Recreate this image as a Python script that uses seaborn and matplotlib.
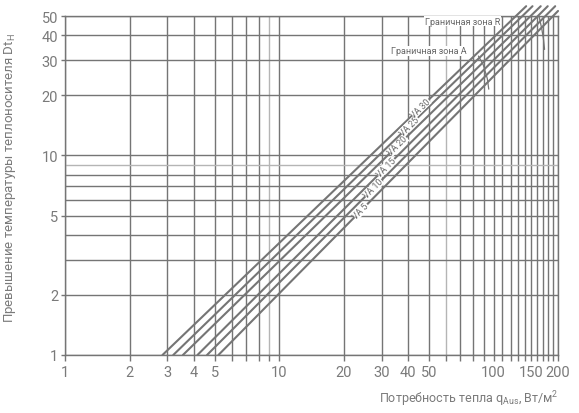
import numpy as np
import pandas as pd
import matplotlib
matplotlib.use('Agg')
import matplotlib.pyplot as plt
import seaborn as sns

# curves VA 5 ... VA 30: start (at Dt=1) and end points
va_names = ['VA 5', 'VA 10', 'VA 15', 'VA 20', 'VA 25', 'VA 30']
q_start = [5.2, 4.6, 4.15, 3.55, 3.2, 2.85]
dt_start = [1.0, 1.0, 1.0, 1.0, 1.0, 1.0]
q_end = [200, 194, 179, 166, 152, 142]
dt_end = [53, 56, 56, 56, 56, 56]
label_q = [24.0, 27.5, 31.5, 35.8, 40.5, 45.5]

# boundary zones
zone_a_q = [85, 89.5, 93.5, 95]
zone_a_dt = [31.5, 28.5, 24.3, 21.5]
zone_r_q = [163, 168, 171, 173]
zone_r_dt = [50, 43, 38.4, 34]

x_ticks = [1, 2, 3, 4, 5, 10, 20, 30, 40, 50, 100, 150, 200]
y_ticks = [1, 2, 5, 10, 20, 30, 40, 50]
x_grid = list(range(1, 10)) + list(range(10, 100, 10)) + list(range(100, 201, 10))
y_grid = list(range(1, 10)) + [10, 20, 30, 40, 50]
faint = [9, 60]

sns.set_style('white')
plt.rcParams['font.family'] = ['Roboto', 'DejaVu Sans']
plt.rcParams['mathtext.default'] = 'regular'

GRID = '#757575'
TXT = '#7a7a7a'

rows = []
for n, q0, d0, q1, d1 in zip(va_names, q_start, dt_start, q_end, dt_end):
    rows.append({'va': n, 'q': q0, 'dt': d0})
    rows.append({'va': n, 'q': q1, 'dt': d1})
df = pd.DataFrame(rows)

fig = plt.figure(figsize=(5.79, 4.14), dpi=100)
ax = fig.add_axes([0.1123, 0.1401, 0.8515, 0.8188])
ax.set_xscale('log')
ax.set_yscale('log')
ax.set_xlim(1, 200)
ax.set_ylim(1, 50)

for v in x_grid:
    ax.axvline(v, color='#b5b5b5' if v in faint else GRID, lw=1, zorder=1)
for v in y_grid:
    ax.axhline(v, color='#b5b5b5' if v in faint else GRID, lw=1, zorder=1)

sns.lineplot(data=df, x='q', y='dt', hue='va', palette=[GRID] * 6,
             estimator=None, sort=False, lw=1.5, legend=False, ax=ax, zorder=3)
for line in ax.get_lines()[-6:]:
    line.set_clip_on(False)

ax.plot(zone_a_q, zone_a_dt, color=GRID, lw=0.9, zorder=4)
ax.plot(zone_r_q, zone_r_dt, color=GRID, lw=0.9, zorder=4, clip_on=False)
ax.text(49.7, 33.4, 'Граничная зона A', fontsize=6.5, color='#666666', ha='center', va='center', zorder=5,
        bbox=dict(facecolor='white', edgecolor='none', pad=0.5))
ax.text(71.6, 47.2, 'Граничная зона R', fontsize=6.5, color='#666666', ha='center', va='center', zorder=5,
        bbox=dict(facecolor='white', edgecolor='none', pad=0.5))

# VA labels along the lines
fig.canvas.draw()
for n, q0, d0, q1, d1, lq in zip(va_names, q_start, dt_start, q_end, dt_end, label_q):
    ly = 10 ** np.interp(np.log10(lq), [np.log10(q0), np.log10(q1)], [np.log10(d0), np.log10(d1)])
    p0 = ax.transData.transform((q0, d0))
    p1 = ax.transData.transform((q1, d1))
    ang = np.degrees(np.arctan2(p1[1] - p0[1], p1[0] - p0[0]))
    ax.text(lq, ly, n, fontsize=6.3, color='#666666', rotation=ang, rotation_mode='anchor',
            ha='center', va='center', zorder=6,
            bbox=dict(facecolor='white', edgecolor='none', pad=0.0))

ax.set_xticks(x_ticks)
ax.set_xticklabels([str(t) for t in x_ticks])
ax.set_xticks([v for v in x_grid if v not in x_ticks], minor=True)
ax.set_xticklabels([], minor=True)
ax.set_yticks(y_ticks)
ax.set_yticklabels([str(t) for t in y_ticks])
ax.set_yticks([v for v in y_grid if v not in y_ticks], minor=True)
ax.set_yticklabels([], minor=True)
ax.tick_params(axis='x', which='both', direction='out', length=4, width=1, color=GRID,
               labelcolor=TXT, labelsize=10.5, pad=3, bottom=True)
ax.tick_params(axis='y', which='major', direction='out', length=3, width=1, color=GRID,
               labelcolor=TXT, labelsize=10.5, pad=2, left=True)
ax.tick_params(axis='y', which='minor', length=0)

for s in ax.spines.values():
    s.set_color(GRID)
    s.set_linewidth(1)

ax.set_xlabel('Потребность тепла q$_{Aus}$, Вт/м$^{2}$', fontsize=9, color=TXT, ha='right')
ax.xaxis.set_label_coords(1.0, -0.1)
ax.set_ylabel('Превышение температуры теплоносителя Dt$_{H}$', fontsize=9.5, color=TXT)
ax.yaxis.set_label_coords(-0.096, 0.525)

fig.savefig('out.png', dpi=100)
